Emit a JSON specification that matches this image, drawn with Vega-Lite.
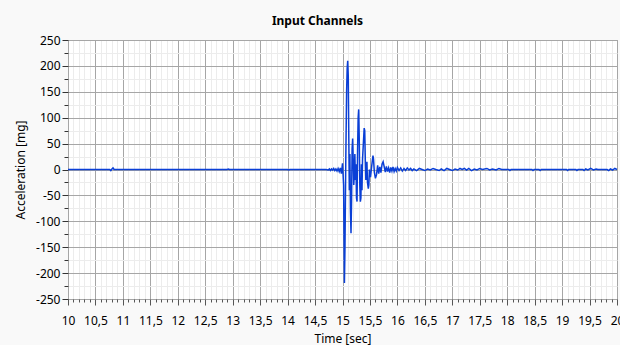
{
  "$schema": "https://vega.github.io/schema/vega-lite/v6.json",
  "width": 549,
  "height": 259,
  "autosize": {"type": "none"},
  "padding": {"left": 68, "top": 40, "right": 3, "bottom": 46},
  "background": "#f9f9f9",
  "title": {"text": "Input Channels", "font": "Noto Sans", "fontSize": 12, "fontWeight": "bold", "color": "#000000", "offset": 6, "dx": -25},
  "config": {
    "view": {"fill": "#ffffff", "stroke": "#8c8c8c", "strokeWidth": 1},
    "axis": {"labelFont": "Noto Sans", "titleFont": "Noto Sans", "labelFontSize": 12, "titleFontSize": 12, "titleFontWeight": "normal", "labelColor": "#000000", "titleColor": "#000000", "domain": false}
  },
  "data": {"values": [
    {"t": 10.0, "a": 0}, {"t": 10.76, "a": 0}, {"t": 10.78, "a": -2}, {"t": 10.8, "a": 1}, {"t": 10.82, "a": 3}, {"t": 10.84, "a": 0},
    {"t": 12.9, "a": 0}, {"t": 12.92, "a": 1}, {"t": 12.94, "a": 0},
    {"t": 14.0, "a": 0}, {"t": 14.02, "a": -1}, {"t": 14.04, "a": 0},
    {"t": 14.7, "a": 0}, {"t": 14.74, "a": -1}, {"t": 14.76, "a": 1}, {"t": 14.78, "a": -2}, {"t": 14.8, "a": 1}, {"t": 14.82, "a": -1},
    {"t": 14.84, "a": 2}, {"t": 14.86, "a": -2}, {"t": 14.88, "a": 1}, {"t": 14.9, "a": -3}, {"t": 14.92, "a": 2}, {"t": 14.94, "a": -4},
    {"t": 14.96, "a": 3}, {"t": 14.98, "a": -8}, {"t": 15.0, "a": 12}, {"t": 15.02, "a": -30}, {"t": 15.035, "a": -219}, {"t": 15.045, "a": -150},
    {"t": 15.06, "a": 20}, {"t": 15.075, "a": 150}, {"t": 15.085, "a": 195}, {"t": 15.095, "a": 210}, {"t": 15.105, "a": 180}, {"t": 15.115, "a": 60},
    {"t": 15.125, "a": -40}, {"t": 15.135, "a": 30}, {"t": 15.145, "a": -80}, {"t": 15.155, "a": -123}, {"t": 15.165, "a": -60}, {"t": 15.175, "a": 40},
    {"t": 15.185, "a": 60}, {"t": 15.195, "a": 20}, {"t": 15.205, "a": -30}, {"t": 15.215, "a": -10}, {"t": 15.225, "a": 30}, {"t": 15.235, "a": -20},
    {"t": 15.245, "a": 10}, {"t": 15.255, "a": -55}, {"t": 15.265, "a": -62}, {"t": 15.275, "a": 40}, {"t": 15.285, "a": 100}, {"t": 15.295, "a": 116},
    {"t": 15.305, "a": 60}, {"t": 15.315, "a": -30}, {"t": 15.325, "a": -62}, {"t": 15.335, "a": -55}, {"t": 15.345, "a": 10}, {"t": 15.355, "a": -40},
    {"t": 15.365, "a": 20}, {"t": 15.38, "a": 50}, {"t": 15.395, "a": 80}, {"t": 15.405, "a": 75}, {"t": 15.415, "a": 20}, {"t": 15.425, "a": -20},
    {"t": 15.435, "a": -10}, {"t": 15.445, "a": 15}, {"t": 15.455, "a": -25}, {"t": 15.47, "a": -37}, {"t": 15.48, "a": -30}, {"t": 15.49, "a": 0},
    {"t": 15.51, "a": -15}, {"t": 15.53, "a": 5}, {"t": 15.555, "a": 27}, {"t": 15.565, "a": 20}, {"t": 15.58, "a": -5}, {"t": 15.6, "a": -17},
    {"t": 15.62, "a": -10}, {"t": 15.64, "a": 8}, {"t": 15.66, "a": -8}, {"t": 15.68, "a": 5}, {"t": 15.7, "a": -6}, {"t": 15.72, "a": 10},
    {"t": 15.74, "a": 15}, {"t": 15.76, "a": 5}, {"t": 15.78, "a": -5}, {"t": 15.8, "a": 6}, {"t": 15.82, "a": -4}, {"t": 15.84, "a": 3},
    {"t": 15.86, "a": -6}, {"t": 15.88, "a": 4}, {"t": 15.9, "a": -3}, {"t": 15.92, "a": 5}, {"t": 15.94, "a": -4}, {"t": 15.96, "a": 2},
    {"t": 15.98, "a": -3}, {"t": 16.0, "a": 4}, {"t": 16.03, "a": -2}, {"t": 16.06, "a": 3}, {"t": 16.09, "a": -3}, {"t": 16.12, "a": 2},
    {"t": 16.15, "a": -2}, {"t": 16.18, "a": 3}, {"t": 16.21, "a": -1}, {"t": 16.24, "a": 2}, {"t": 16.27, "a": -2}, {"t": 16.3, "a": 1},
    {"t": 16.35, "a": -2}, {"t": 16.4, "a": 2}, {"t": 16.45, "a": 0}, {"t": 16.5, "a": -2}, {"t": 16.55, "a": 1}, {"t": 16.6, "a": -1},
    {"t": 16.65, "a": 2}, {"t": 16.7, "a": 0}, {"t": 16.76, "a": -2}, {"t": 16.8, "a": 1}, {"t": 16.85, "a": -2}, {"t": 16.9, "a": 2},
    {"t": 16.95, "a": 0}, {"t": 17.0, "a": -2}, {"t": 17.05, "a": 1}, {"t": 17.1, "a": -1}, {"t": 17.14, "a": 2}, {"t": 17.18, "a": 0},
    {"t": 17.22, "a": 2}, {"t": 17.26, "a": -1}, {"t": 17.3, "a": 2}, {"t": 17.35, "a": -2}, {"t": 17.4, "a": 1}, {"t": 17.45, "a": -1},
    {"t": 17.5, "a": 2}, {"t": 17.55, "a": 0}, {"t": 17.63, "a": 2}, {"t": 17.68, "a": -1}, {"t": 17.73, "a": 1}, {"t": 17.8, "a": -1},
    {"t": 17.85, "a": 2}, {"t": 17.9, "a": 0}, {"t": 18.03, "a": 0}, {"t": 18.05, "a": -2}, {"t": 18.07, "a": 0},
    {"t": 18.45, "a": 0}, {"t": 18.47, "a": -2}, {"t": 18.49, "a": 0}, {"t": 18.58, "a": 0}, {"t": 18.6, "a": -2}, {"t": 18.62, "a": 0},
    {"t": 19.08, "a": 0}, {"t": 19.1, "a": -2}, {"t": 19.12, "a": 0}, {"t": 19.25, "a": 0}, {"t": 19.27, "a": -2}, {"t": 19.29, "a": 0},
    {"t": 19.38, "a": 0}, {"t": 19.4, "a": -2}, {"t": 19.43, "a": 1}, {"t": 19.47, "a": -1}, {"t": 19.52, "a": 2}, {"t": 19.57, "a": -1}, {"t": 19.62, "a": 1}, {"t": 19.65, "a": 0},
    {"t": 19.82, "a": 0}, {"t": 19.85, "a": -2}, {"t": 19.88, "a": 1}, {"t": 19.92, "a": -1}, {"t": 19.96, "a": 2}, {"t": 20.0, "a": 0}
  ]},
  "mark": {"type": "line", "color": "#0a3fd6", "strokeWidth": 1.5, "interpolate": "linear", "zindex": 2},
  "encoding": {
    "x": {
      "field": "t", "type": "quantitative",
      "scale": {"domain": [10, 20], "nice": false, "zero": false},
      "axis": {
        "title": "Time [sec]", "titlePadding": 7,
        "values": [10,10.1,10.2,10.3,10.4,10.5,10.6,10.7,10.8,10.9,11,11.1,11.2,11.3,11.4,11.5,11.6,11.7,11.8,11.9,12,12.1,12.2,12.3,12.4,12.5,12.6,12.7,12.8,12.9,13,13.1,13.2,13.3,13.4,13.5,13.6,13.7,13.8,13.9,14,14.1,14.2,14.3,14.4,14.5,14.6,14.7,14.8,14.9,15,15.1,15.2,15.3,15.4,15.5,15.6,15.7,15.8,15.9,16,16.1,16.2,16.3,16.4,16.5,16.6,16.7,16.8,16.9,17,17.1,17.2,17.3,17.4,17.5,17.6,17.7,17.8,17.9,18,18.1,18.2,18.3,18.4,18.5,18.6,18.7,18.8,18.9,19,19.1,19.2,19.3,19.4,19.5,19.6,19.7,19.8,19.9,20],
        "labelExpr": "abs(datum.value*2 - round(datum.value*2)) < 0.001 ? replace(toString(round(datum.value*2)/2), '.', ',') : ''",
        "labelOverlap": false, "labelFlush": false, "labelPadding": 10,
        "tickColor": "#555555",
        "tickSize": {"condition": {"test": "abs(datum.value*2 - round(datum.value*2)) < 0.001", "value": 6}, "value": 3},
        "gridColor": {"condition": {"test": "abs(datum.value*2 - round(datum.value*2)) < 0.001", "value": "#a6a6a6"}, "value": "#ececec"},
        "gridWidth": 1
      }
    },
    "y": {
      "field": "a", "type": "quantitative",
      "scale": {"domain": [-250, 250], "nice": false},
      "axis": {
        "title": "Acceleration [mg]", "titlePadding": 8,
        "values": [-250,-225,-200,-175,-150,-125,-100,-75,-50,-25,0,25,50,75,100,125,150,175,200,225,250],
        "labelExpr": "datum.value % 50 == 0 ? toString(datum.value) : ''",
        "labelOverlap": false, "labelFlush": false, "labelPadding": 2,
        "tickColor": "#333333",
        "tickSize": {"condition": {"test": "datum.value % 50 == 0", "value": 6}, "value": 4},
        "gridColor": {"condition": {"test": "datum.value % 50 == 0", "value": "#a6a6a6"}, "value": "#ececec"},
        "gridWidth": 1
      }
    }
  }
}
